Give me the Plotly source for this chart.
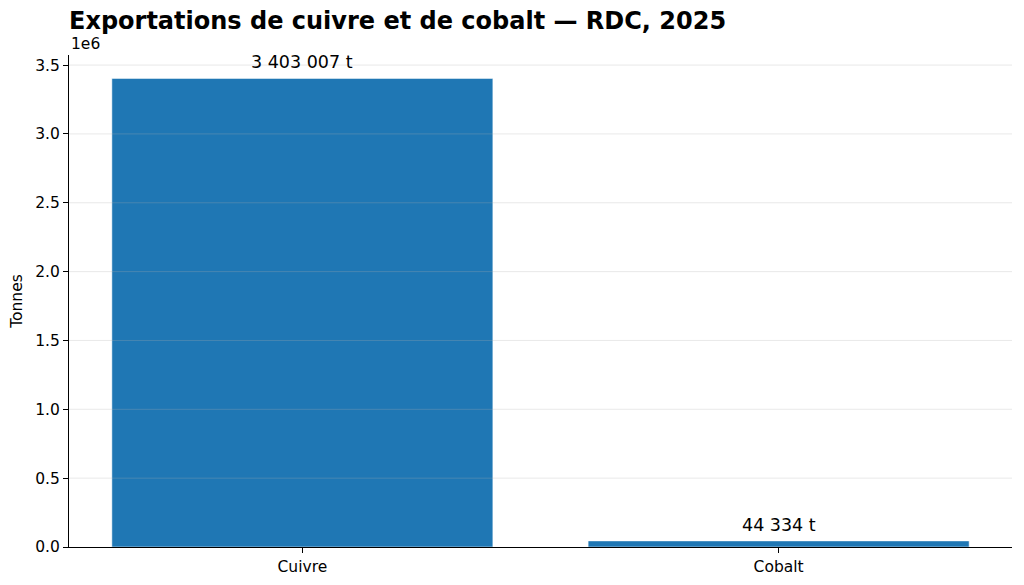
import plotly.graph_objects as go

# Données
produits = ["Cuivre", "Cobalt"]
tonnes = [3403007, 44334]
etiquettes = ["3 403 007 t", "44 334 t"]
ticks_y = [0, 500000, 1000000, 1500000, 2000000, 2500000, 3000000, 3500000]
ticks_y_txt = ["0.0", "0.5", "1.0", "1.5", "2.0", "2.5", "3.0", "3.5"]

bleu = "#1f77b4"
police = "DejaVu Sans"

fig = go.Figure()
fig.add_trace(go.Bar(x=[0, 1], y=tonnes, width=0.8,
                     marker=dict(color=bleu, line=dict(color="rgba(255,255,255,0.5)", width=1)),
                     hoverinfo="skip"))

# étiquettes de valeur au-dessus des barres
for i, (v, txt) in enumerate(zip(tonnes, etiquettes)):
    fig.add_annotation(x=i, y=v, text=txt, showarrow=False, xanchor="center", yanchor="bottom",
                       yshift=4, font=dict(family=police, size=17.5, color="#000000"))

# grille horizontale par-dessus les barres (comme matplotlib)
for v in ticks_y:
    if v == 0:
        continue
    fig.add_shape(type="line", xref="paper", x0=0, x1=1, yref="y", y0=v, y1=v,
                  line=dict(color="rgba(176,176,176,0.28)", width=1), layer="above")

fig.update_xaxes(range=[-0.49, 1.49], tickvals=[0, 1], ticktext=produits,
                 showgrid=False, showline=True, linecolor="#000000", linewidth=1,
                 ticks="outside", ticklen=5, tickcolor="#000000", automargin=False,
                 tickfont=dict(family=police, size=15.5, color="#000000"), zeroline=False)
fig.update_yaxes(range=[0, 3573157], tickvals=ticks_y, ticktext=ticks_y_txt,
                 showgrid=False, showline=True, linecolor="#000000", linewidth=1,
                 ticks="outside", ticklen=5, tickcolor="#000000", automargin=False,
                 tickfont=dict(family=police, size=15.5, color="#000000"), zeroline=False,
                 title=dict(text="Tonnes", font=dict(family=police, size=15.5, color="#000000"), standoff=8))

fig.add_annotation(text="1e6", xref="paper", yref="paper", x=0, y=1, xanchor="left", yanchor="bottom",
                   showarrow=False, font=dict(family=police, size=15.5, color="#000000"), yshift=0)

fig.update_layout(
    width=1024, height=585,
    margin=dict(l=69, r=12, t=55, b=38),
    paper_bgcolor="white", plot_bgcolor="white",
    showlegend=False,
    title=dict(text="<b>Exportations de cuivre et de cobalt — RDC, 2025</b>",
               x=69 / 1024, xanchor="left", y=1 - 21 / 585, yanchor="middle",
               font=dict(family=police, size=24, color="#000000")),
)

fig.write_html("out.html", config={"displayModeBar": False},
               post_script="document.body.style.margin='0px';")
